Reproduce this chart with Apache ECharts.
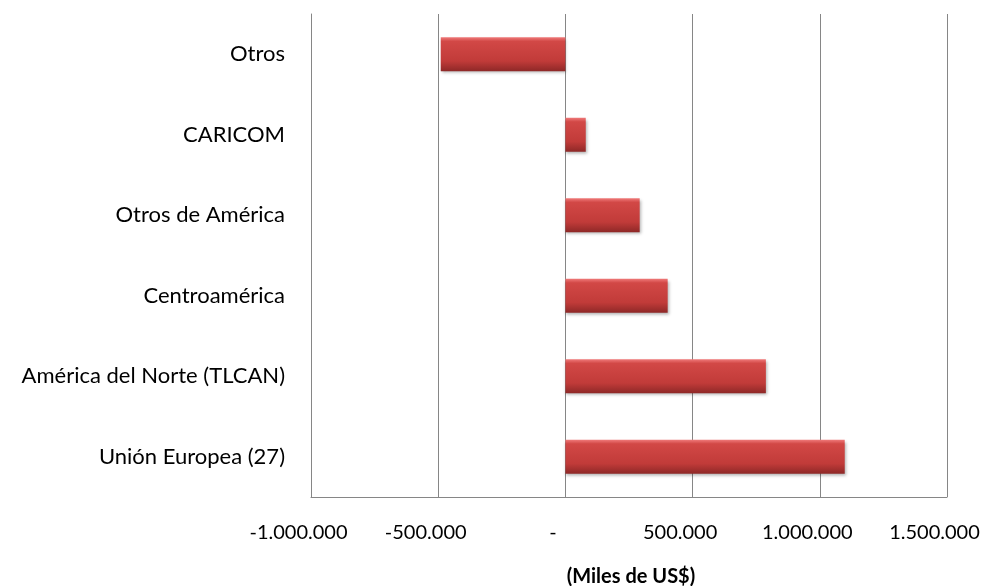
<!DOCTYPE html>
<html>
<head>
<meta charset="utf-8">
<script src="https://cdn.jsdelivr.net/npm/echarts@6/dist/echarts.min.js"></script>
<style>html,body{margin:0;padding:0;background:#fff}#c{width:987px;height:586px}</style>
</head>
<body>
<div id="c"></div>
<script>
var categories = ["Otros", "CARICOM", "Otros de América", "Centroamérica", "América del Norte (TLCAN)", "Unión Europea (27)"];
var values = [-490000, 80000, 292000, 402000, 788000, 1098000];
var axisTitle = "(Miles de US$)";

function fmt(v) {
  if (v === 0) return "-";
  var s = Math.abs(v).toString().replace(/\B(?=(\d{3})+(?!\d))/g, ".");
  return (v < 0 ? "-" : "") + s;
}

var chart = echarts.init(document.getElementById('c'));
chart.setOption({
  animation: false,
  backgroundColor: '#fff',
  grid: { left: 311, right: 40, top: 14, bottom: 89, containLabel: false, outerBoundsMode: 'none' },
  xAxis: {
    type: 'value', min: -1000000, max: 1500000, interval: 500000,
    name: axisTitle, nameLocation: 'middle', nameGap: 70,
    nameTextStyle: { fontFamily: 'Lato', fontSize: 20, fontWeight: 'bold', color: '#000', padding: [0, 0, 0, 4] },
    axisLine: { show: true, lineStyle: { color: '#868686', width: 1 } },
    axisTick: { show: false },
    splitLine: { show: true, lineStyle: { color: '#868686', width: 1 } },
    axisLabel: { formatter: fmt, margin: 26, fontFamily: 'Lato', fontSize: 20, color: '#000', padding: [0, 25, 0, 0] }
  },
  yAxis: {
    type: 'category', data: categories, inverse: true,
    axisLine: { show: true, onZero: false, lineStyle: { color: '#868686', width: 1 } },
    axisTick: { show: false },
    axisLabel: { margin: 26, fontFamily: 'Lato', fontSize: 22, color: '#000' }
  },
  series: [{
    type: 'bar', data: values, barWidth: 34,
    itemStyle: {
      color: new echarts.graphic.LinearGradient(0, 0, 0, 1, [
        { offset: 0, color: '#F07A7A' },
        { offset: 0.12, color: '#D24846' },
        { offset: 0.7, color: '#C13B39' },
        { offset: 1, color: '#8E2827' }
      ]),
      shadowColor: 'rgba(0,0,0,0.3)', shadowBlur: 3, shadowOffsetX: 1, shadowOffsetY: 2
    }
  }]
});
</script>
</body>
</html>
